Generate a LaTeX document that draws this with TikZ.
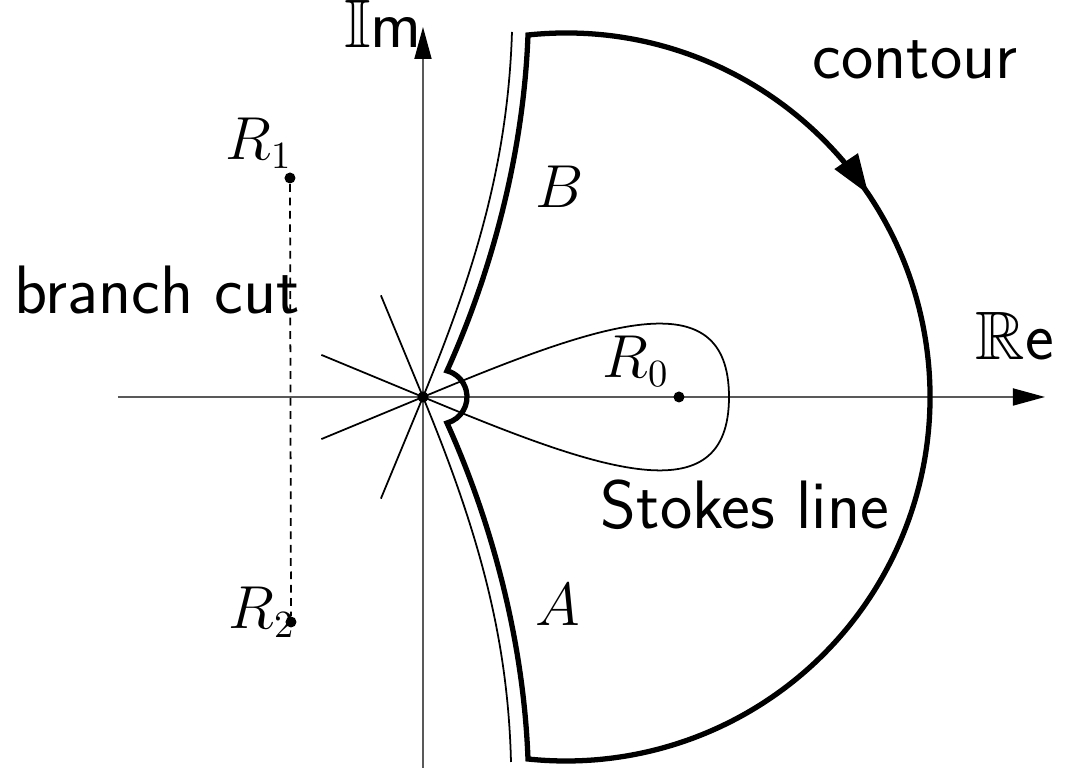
\documentclass[tikz,border=0pt]{standalone}
\usepackage{amssymb}
\usetikzlibrary{arrows.meta, decorations.markings}
\tikzset{
  dot/.style={circle, fill, inner sep=0pt, minimum size=0.11cm},
  txt/.style={font=\fontsize{19.5}{23}\selectfont\sffamily},
  mth/.style={font=\fontsize{16}{19}\selectfont},
  axis/.style={black!65, line width=0.5pt, -{Triangle[length=0.32cm, width=0.17cm, black]}}
}
\begin{document}
\begin{tikzpicture}
\useasboundingbox (-4.23,-3.71) rectangle (6.47,3.97);
% Axes
\draw[axis] (-3.05,0) -- (6.22,0);
\draw[axis] (0,-3.71) -- (0,3.70);
\node[txt, anchor=base] (re) at (5.92,0.37) {$\mathbb{R}$e};
\node[txt, anchor=base, inner sep=0pt] (im) at (-0.40,3.49) {$\mathbb{I}$m};

% Short rays through the origin
\foreach \a in {112.5,157.5,202.5,247.5}
    \draw[line width=0.5pt] (0,0) -- (\a:1.1);

% Thin lines up and down from the origin
\draw[line width=0.5pt] (0,0) .. controls (0.55,1.33) and (0.85,2.4) .. (0.89,3.65);
\draw[line width=0.5pt] (0,0) .. controls (0.55,-1.33) and (0.85,-2.4) .. (0.88,-3.65);

% Stokes line loop round R0
\draw[line width=0.5pt] (0,0) .. controls (1.75,0.73) and (3.06,1.2) .. (3.06,0)
    .. controls (3.06,-1.2) and (1.75,-0.73) .. (0,0);

% Contour
\draw[line width=1.5pt, miter limit=10,
    decoration={markings, mark=at position 3.95cm with {\arrow{Triangle[length=0.40cm, width=0.27cm]}}},
    postaction={decorate}]
    (1.05,3.62) arc[start angle=96, end angle=-96, radius=3.64]
    .. controls (1.0,-2.3) and (0.62,-1.1) .. (0.24,-0.26)
    arc[start angle=-75, end angle=75, radius=0.27]
    .. controls (0.62,1.1) and (1.0,2.3) .. (1.05,3.62) -- cycle;

% Branch cut
\node[dot] (R1) at (-1.33,2.19) {};
\node[dot] (R2) at (-1.32,-2.25) {};
\draw[line width=0.5pt, dash pattern=on 2.2pt off 1.6pt] (R1) -- (R2);

% Points
\node[dot] (O) at (0,0) {};
\node[dot] (R0) at (2.56,0) {};

% Labels
\node[mth] (lR1) at (-1.64,2.54) {$R_1$};
\node[mth] (lR2) at (-1.61,-2.15) {$R_2$};
\node[mth] (lR0) at (2.13,0.36) {$R_0$};
\node[mth] (lB) at (1.37,2.10) {$B$};
\node[mth] (lA) at (1.35,-2.08) {$A$};
\node[txt] (lcont) at (4.92,3.37) {contour};
\node[txt] (lcut) at (-2.66,1.07) {branch cut};
\node[txt] (lstokes) at (3.22,-1.08) {Stokes line};
\end{tikzpicture}
\end{document}
